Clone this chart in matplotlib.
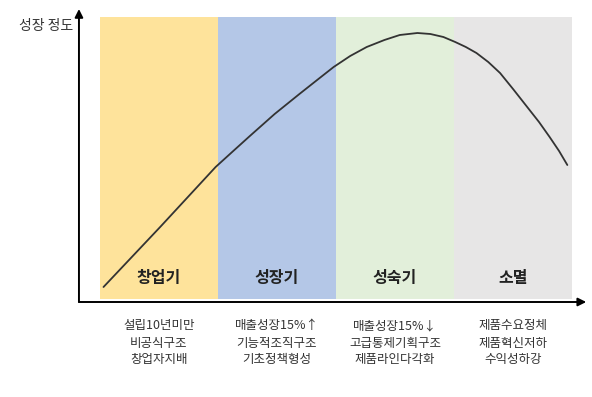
import matplotlib
matplotlib.use('Agg')
import matplotlib.pyplot as plt

plt.rcParams['font.family'] = ['Noto Sans CJK KR', 'DejaVu Sans']

# Stages (each band is one unit wide on x)
stages = ['창업기', '성장기', '성숙기', '소멸']
band_colors = ['#FEE39B', '#B4C7E7', '#E2EFDA', '#E7E6E6']
descriptions = [
    '설립10년미만\n비공식구조\n창업자지배',
    '매출성장15%↑\n기능적조직구조\n기초정책형성',
    '매출성장15%↓\n고급통제기획구조\n제품라인다각화',
    '제품수요정체\n제품혁신저하\n수익성하강',
]

# Growth curve
curve_x = [0.03, 0.51, 0.98, 1.12, 1.27, 1.48, 1.69, 1.84, 1.98, 2.12, 2.26,
           2.41, 2.54, 2.69, 2.80, 2.91, 3.01, 3.10, 3.19, 3.29, 3.39, 3.50,
           3.62, 3.72, 3.81, 3.89, 3.96]
curve_y = [0.15, 0.75, 1.35, 1.50, 1.66, 1.88, 2.08, 2.22, 2.35, 2.46, 2.55,
           2.62, 2.67, 2.69, 2.68, 2.65, 2.60, 2.55, 2.49, 2.40, 2.29, 2.13,
           1.95, 1.80, 1.65, 1.51, 1.37]

fig = plt.figure(figsize=(5.92, 3.97), dpi=100)
ax = fig.add_axes([0, 0, 1, 1])
ax.set_xlim(-0.847, 4.169)
ax.set_ylim(-0.95, 3.02)
ax.axis('off')

band_top = 2.85
for i, (name, color) in enumerate(zip(stages, band_colors)):
    ax.axvspan(i, i + 1, ymin=(0.03 + 0.95) / 3.97, ymax=(band_top + 0.95) / 3.97,
               color=color, lw=0, zorder=1)
    ax.text(i + 0.5, 0.24, name, ha='center', va='center', fontsize=11.5,
            fontweight='bold', color='#222222', zorder=3)
    ax.text(i + 0.5, -0.41, descriptions[i], ha='center', va='center',
            fontsize=9, color='#333333', linespacing=1.4, zorder=3)

ax.plot(curve_x, curve_y, color='#333333', lw=1.3, zorder=2,
        solid_joinstyle='round', solid_capstyle='round')

# Axes with arrows
x0 = -0.178
ax.annotate('', xy=(x0, 2.93), xytext=(x0, 0.0),
            arrowprops=dict(arrowstyle='-|>', color='black', lw=1.4,
                            mutation_scale=12, shrinkA=0, shrinkB=0))
ax.annotate('', xy=(4.12, 0.0), xytext=(x0, 0.0),
            arrowprops=dict(arrowstyle='-|>', color='black', lw=1.4,
                            mutation_scale=12, shrinkA=0, shrinkB=0))

ax.text(x0 - 0.05, 2.76, '성장 정도', ha='right', va='center', fontsize=10,
        color='#333333')

fig.savefig('out.png', dpi=100)
